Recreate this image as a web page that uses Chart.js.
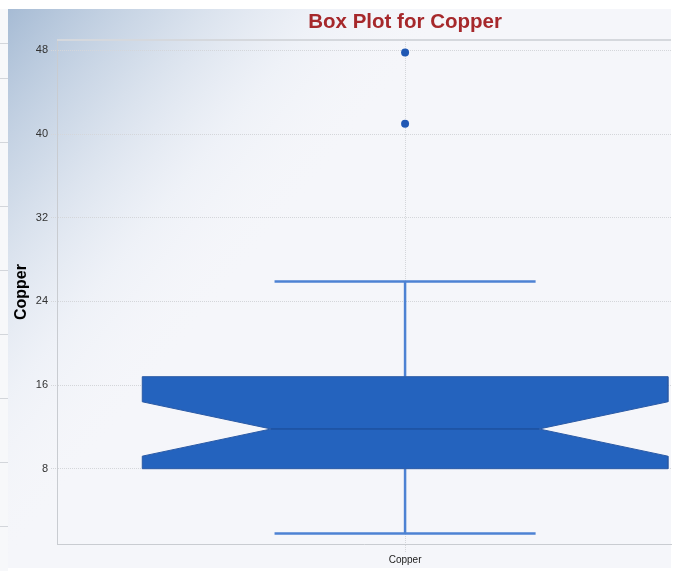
<!DOCTYPE html>
<html lang="en">
<head>
<meta charset="UTF-8">
<title>Box Plot for Copper</title>
<style>
    html, body {
        margin: 0;
        padding: 0;
        background: #ffffff;
    }
    #wrap {
        width: 681px;
        height: 571px;
    }
</style>
</head>
<body>
<div id="wrap"><canvas id="boxChart" width="681" height="571"></canvas></div>

<script src="https://cdn.jsdelivr.net/npm/chart.js"></script>
<script>
    // values
    const categories = ['Copper'];
    const q1 = [8.0];
    const median = [11.8];
    const q3 = [16.8];
    const notchLow = [9.2];
    const notchHigh = [14.4];
    const whiskerLow = [1.8];
    const whiskerHigh = [25.9];
    const outliers = [[47.8, 41.0]];
    const yTicks = [8, 16, 24, 32, 40, 48];
    const yMin = 0.8;
    const yMax = 49;

    // box geometry (x units, category i sits at x = i + 1)
    const xMax = 1.764;
    const boxHalf = 0.755;
    const notchHalf = 0.385;
    const capHalf = 0.375;

    const FONT = "'Liberation Sans', Arial, sans-serif";
    const BOX_BLUE = '#2463be';
    const WHISKER_BLUE = '#4d82d3';

    const datasets = [];
    categories.forEach((cat, i) => {
        const xc = i + 1;
        datasets.push({
            label: cat + ' box',
            data: [
                {x: xc - boxHalf, y: q1[i]},
                {x: xc - boxHalf, y: notchLow[i]},
                {x: xc - notchHalf, y: median[i]},
                {x: xc - boxHalf, y: notchHigh[i]},
                {x: xc - boxHalf, y: q3[i]},
                {x: xc + boxHalf, y: q3[i]},
                {x: xc + boxHalf, y: notchHigh[i]},
                {x: xc + notchHalf, y: median[i]},
                {x: xc + boxHalf, y: notchLow[i]},
                {x: xc + boxHalf, y: q1[i]},
                {x: xc - boxHalf, y: q1[i]}
            ],
            showLine: true,
            fill: 'shape',
            backgroundColor: BOX_BLUE,
            borderColor: '#2a5aa6',
            borderWidth: 1,
            borderJoinStyle: 'miter',
            pointRadius: 0,
            order: 2
        });
        datasets.push({
            label: cat + ' median',
            data: [{x: xc - notchHalf, y: median[i]}, {x: xc + notchHalf, y: median[i]}],
            showLine: true,
            borderColor: '#1a4890',
            borderWidth: 1,
            pointRadius: 0,
            order: 1
        });
        // whiskers + caps
        [[q3[i], whiskerHigh[i]], [q1[i], whiskerLow[i]]].forEach(([from, to]) => {
            datasets.push({
                label: cat + ' whisker',
                data: [{x: xc, y: from}, {x: xc, y: to}],
                showLine: true,
                borderColor: WHISKER_BLUE,
                borderWidth: 2.5,
                pointRadius: 0,
                order: 3
            });
            datasets.push({
                label: cat + ' cap',
                data: [{x: xc - capHalf, y: to}, {x: xc + capHalf, y: to}],
                showLine: true,
                borderColor: WHISKER_BLUE,
                borderWidth: 2.5,
                pointRadius: 0,
                order: 3
            });
        });
        datasets.push({
            label: cat + ' outliers',
            data: outliers[i].map(v => ({x: xc, y: v})),
            showLine: false,
            pointRadius: 4,
            pointBackgroundColor: '#2058b4',
            pointBorderColor: '#2058b4',
            pointBorderWidth: 0,
            order: 0
        });
    });

    const backdrop = {
        id: 'backdrop',
        beforeDraw(chart) {
            const ctx = chart.ctx;
            const W = chart.width, H = chart.height;
            ctx.save();
            ctx.fillStyle = '#ffffff';
            ctx.fillRect(0, 0, W, H);
            ctx.fillStyle = '#f7f8fa';
            ctx.fillRect(0, 9, 8, H - 9);
            // leftover lines on the left strip
            ctx.strokeStyle = '#d3d6db';
            ctx.lineWidth = 1;
            [43].concat([0, 1, 2, 3, 4, 5, 6, 7].map(k => 78 + 64 * k)).forEach(y => {
                ctx.beginPath();
                ctx.moveTo(0, y + 0.5);
                ctx.lineTo(8, y + 0.5);
                ctx.stroke();
            });
            ctx.fillStyle = '#f5f6fa';
            ctx.fillRect(8, 9, 663, H - 12);
            const g = ctx.createLinearGradient(8, 9, 280, 230);
            g.addColorStop(0, 'rgba(166,187,212,1)');
            g.addColorStop(0.35, 'rgba(196,210,227,0.75)');
            g.addColorStop(0.7, 'rgba(232,237,245,0.5)');
            g.addColorStop(1, 'rgba(245,246,250,0)');
            ctx.fillStyle = g;
            ctx.fillRect(8, 9, 663, H - 12);
            ctx.restore();
        },
        beforeDatasetsDraw(chart) {
            const {ctx, chartArea} = chart;
            ctx.save();
            ctx.strokeStyle = '#d5d8dd';
            ctx.lineWidth = 2;
            ctx.beginPath();
            ctx.moveTo(chartArea.left, chartArea.top);
            ctx.lineTo(chartArea.right, chartArea.top);
            ctx.stroke();
            ctx.restore();
        },
        afterDraw(chart) {
            const ctx = chart.ctx;
            ctx.save();
            ctx.font = "bold 20.5px " + FONT;
            ctx.fillStyle = '#a6282b';
            ctx.textAlign = 'center';
            ctx.textBaseline = 'middle';
            ctx.fillText('Box Plot for Copper', chart.scales.x.getPixelForValue(1), 22);
            ctx.restore();
        }
    };

    new Chart(document.getElementById('boxChart'), {
        type: 'scatter',
        data: {datasets: datasets},
        options: {
            responsive: false,
            animation: false,
            layout: {padding: {left: 8, top: 40, right: 10, bottom: 0}},
            plugins: {
                legend: {display: false},
                tooltip: {enabled: false}
            },
            scales: {
                x: {
                    type: 'linear',
                    min: 0,
                    max: xMax,
                    afterBuildTicks: s => { s.ticks = categories.map((c, i) => ({value: i + 1})); },
                    afterFit: s => { s.height = 27; },
                    ticks: {
                        callback: v => categories[Math.round(v) - 1] || '',
                        font: {family: FONT, size: 10},
                        color: '#222',
                        padding: 1,
                        maxRotation: 0
                    },
                    grid: {color: '#d4d6da', tickLength: 9, tickColor: '#d4d6da', tickBorderDash: [1, 1]},
                    border: {color: '#c9ccd1', width: 1, dash: [1, 1]}
                },
                y: {
                    min: yMin,
                    max: yMax,
                    afterBuildTicks: s => { s.ticks = yTicks.map(v => ({value: v})); },
                    afterFit: s => { s.width = 49; },
                    title: {
                        display: true,
                        text: 'Copper',
                        font: {family: FONT, size: 16, weight: 'bold'},
                        color: '#000',
                        padding: {top: 4, bottom: 0}
                    },
                    ticks: {font: {family: FONT, size: 11}, color: '#333', padding: 3},
                    grid: {color: '#d4d6da', tickLength: 6, tickColor: '#d4d6da', tickBorderDash: [1, 1]},
                    border: {color: '#c9ccd1', width: 1, dash: [1, 1]}
                }
            }
        },
        plugins: [backdrop]
    });
</script>
</body>
</html>
